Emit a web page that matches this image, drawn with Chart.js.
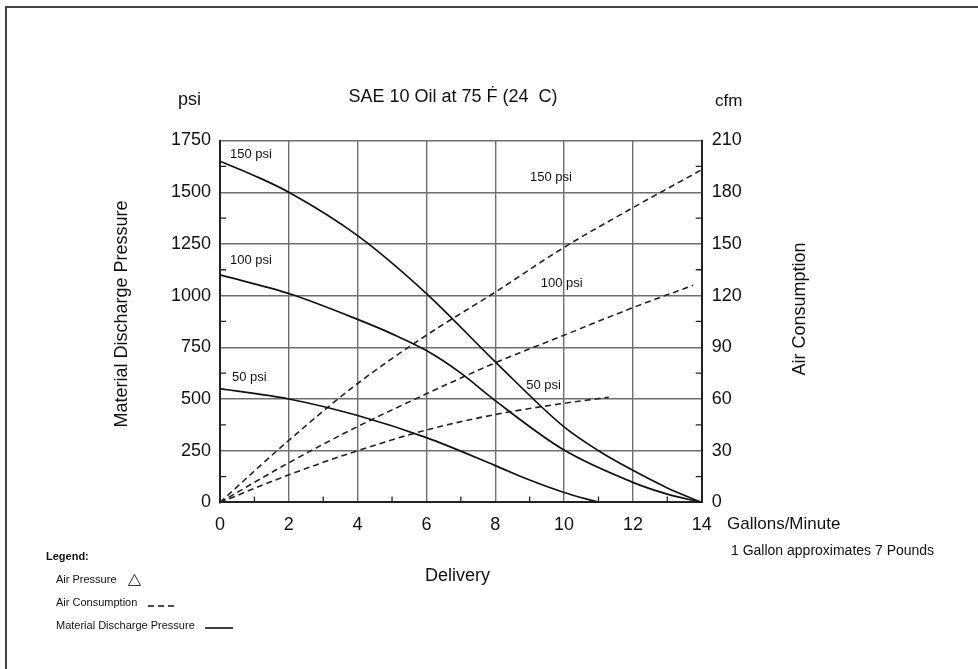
<!DOCTYPE html>
<html><head><meta charset="utf-8">
<script src="https://cdn.jsdelivr.net/npm/chart.js@4/dist/chart.umd.min.js"></script>
<style>html,body{margin:0;padding:0;background:#fff}#wrap{width:978px;height:669px;position:relative}</style>
</head><body><div id="wrap"><canvas id="c" width="978" height="669"></canvas></div>
<script>
// ---- data ----
const xTickLabels = [0,2,4,6,8,10,12,14];
const psiTickLabels = [0,250,500,750,1000,1250,1500,1750];
const cfmTickLabels = [0,30,60,90,120,150,180,210];

// Material discharge pressure (psi) vs gallons/minute
const mdp150Gal = [0,1,2,4,6,8,10,11,12,13,14];
const mdp150Psi = [1650,1580,1500,1290,1010,680,365,250,155,70,0];
const mdp100Gal = [0,2,4,5,6,7,8,10,12,13,14];
const mdp100Psi = [1100,1010,885,815,734,625,492,253,97,40,0];
const mdp50Gal  = [0,2,4,6,8,9,10,11];
const mdp50Psi  = [550,500,420,313,178,108,48,0];

// Air consumption (cfm) vs gallons/minute
const ac150Gal = [0,2,4,6,8,10,12,14];
const ac150Cfm = [0,36,69,97,122,148,171,193];
const ac100Gal = [0,2,4,6,8,10,12,13.75];
const ac100Cfm = [0,23,44,63,81,97,113,126];
const ac50Gal  = [0,2,4,6,8,10,11.3];
const ac50Cfm  = [0,16,30,42,51,57.5,61];

const curveLabels = [
  {text:'150 psi', axis:'y',  x:0.29, v:1681},
  {text:'100 psi', axis:'y',  x:0.29, v:1171},
  {text:'50 psi',  axis:'y',  x:0.35, v:602},
  {text:'150 psi', axis:'y1', x:9.01, v:188.3},
  {text:'100 psi', axis:'y1', x:9.32, v:127.2},
  {text:'50 psi',  axis:'y1', x:8.9,  v:68.1}
];

const pts = (xs, ys) => xs.map((x,i)=>({x, y:ys[i]}));
const FONT = '"Liberation Sans", Arial, sans-serif';
const PLOT = {left:220, right:701.7, top:140.5, bottom:502.4, W:978, H:669};

const solid = (d) => ({data:d, borderColor:'#111', borderWidth:1.7, yAxisID:'y', pointRadius:0, cubicInterpolationMode:'monotone', fill:false});
const dashed = (d) => ({data:d, borderColor:'#222', borderWidth:1.6, borderDash:[6,4], yAxisID:'y1', pointRadius:0, cubicInterpolationMode:'monotone', fill:false});

const decor = {
  id:'decor',
  afterDraw(chart){
    const ctx = chart.ctx, sx = chart.scales.x, sy = chart.scales.y, sy1 = chart.scales.y1;
    const ca = chart.chartArea;
    ctx.save();
    // frame
    ctx.strokeStyle = '#444'; ctx.lineWidth = 2;
    ctx.beginPath(); ctx.moveTo(6, PLOT.H+5); ctx.lineTo(6,7); ctx.lineTo(PLOT.W+5,7); ctx.stroke();
    // minor ticks
    ctx.strokeStyle = '#222'; ctx.lineWidth = 1.3;
    ctx.beginPath();
    for (let v=125; v<1750; v+=250){ const y=sy.getPixelForValue(v); ctx.moveTo(ca.left, y); ctx.lineTo(ca.left+6, y); }
    for (let v=15; v<210; v+=30){ const y=sy1.getPixelForValue(v); ctx.moveTo(ca.right, y); ctx.lineTo(ca.right-6, y); }
    for (let v=1; v<14; v+=2){ const x=sx.getPixelForValue(v); ctx.moveTo(x, ca.bottom); ctx.lineTo(x, ca.bottom-6); }
    ctx.stroke();
    // curve labels
    ctx.fillStyle = '#111'; ctx.font = '13px '+FONT; ctx.textAlign='left'; ctx.textBaseline='middle';
    curveLabels.forEach(l=>{
      const sc = l.axis==='y'?sy:sy1;
      ctx.fillText(l.text, sx.getPixelForValue(l.x), sc.getPixelForValue(l.v));
    });
    // texts
    ctx.font = '18px '+FONT; ctx.textAlign='center';
    ctx.fillText('SAE 10 Oil at 75 Ḟ (24  C)', 453, 97);
    ctx.textAlign='left';
    ctx.fillText('psi', 178, 100);
    ctx.font = '17px '+FONT;
    ctx.fillText('cfm', 715, 101);
    ctx.fillText('Gallons/Minute', 727, 524);
    ctx.font = '18px '+FONT;
    ctx.fillText('Delivery', 425, 576);
    ctx.font = '14px '+FONT;
    ctx.fillText('1 Gallon approximates 7 Pounds', 731, 551);
    // rotated axis titles
    ctx.font = '18px '+FONT; ctx.textAlign='center';
    ctx.save(); ctx.translate(122, 314); ctx.rotate(-Math.PI/2); ctx.fillText('Material Discharge Pressure', 0, 0); ctx.restore();
    ctx.save(); ctx.translate(800, 309); ctx.rotate(-Math.PI/2); ctx.fillText('Air Consumption', 0, 0); ctx.restore();
    // legend
    ctx.textAlign='left';
    ctx.font = 'bold 11px '+FONT; ctx.fillText('Legend:', 46, 557);
    ctx.font = '11px '+FONT;
    ctx.fillText('Air Pressure', 56, 580);
    ctx.fillText('Air Consumption', 56, 603);
    ctx.fillText('Material Discharge Pressure', 56, 626);
    ctx.strokeStyle = '#333'; ctx.lineWidth = 1;
    ctx.beginPath(); ctx.moveTo(128.5, 585.5); ctx.lineTo(134.5, 574.5); ctx.lineTo(140.5, 585.5); ctx.closePath(); ctx.stroke();
    ctx.lineWidth = 1.6; ctx.strokeStyle='#111';
    ctx.setLineDash([6,4]); ctx.beginPath(); ctx.moveTo(148, 606); ctx.lineTo(178, 606); ctx.stroke();
    ctx.setLineDash([]); ctx.beginPath(); ctx.moveTo(205, 628); ctx.lineTo(233, 628); ctx.stroke();
    ctx.restore();
  }
};

new Chart(document.getElementById('c'), {
  type:'line',
  data:{ datasets:[
    solid(pts(mdp150Gal, mdp150Psi)),
    solid(pts(mdp100Gal, mdp100Psi)),
    solid(pts(mdp50Gal, mdp50Psi)),
    dashed(pts(ac150Gal, ac150Cfm)),
    dashed(pts(ac100Gal, ac100Cfm)),
    dashed(pts(ac50Gal, ac50Cfm))
  ]},
  options:{
    responsive:false, animation:false, devicePixelRatio:1,
    layout:{padding:{top:PLOT.top, left:0, right:0, bottom:0}},
    plugins:{legend:{display:false}, tooltip:{enabled:false}, title:{display:false}},
    scales:{
      x:{type:'linear', min:0, max:14,
         afterBuildTicks: s => { s.ticks = xTickLabels.map(v=>({value:v})); },
         ticks:{font:{size:18, family:FONT}, color:'#111', padding:12, maxRotation:0, autoSkip:false, callback: v => String(v)},
         grid:{color: c => (c.tick && c.tick.value>0 && c.tick.value<14) ? '#6e6e6e' : 'transparent', lineWidth:1.4, drawTicks:false},
         border:{color:'#222', width:2},
         afterFit: s => { s.height = PLOT.H - PLOT.bottom; }},
      y:{position:'left', min:0, max:1750,
         afterBuildTicks: s => { s.ticks = psiTickLabels.map(v=>({value:v})); },
         ticks:{font:{size:18, family:FONT}, color:'#111', padding:9, callback: v => String(v)},
         grid:{color: c => (c.tick && c.tick.value>0) ? '#6e6e6e' : 'transparent', lineWidth:1.4, drawTicks:false},
         border:{color:'#222', width:2},
         afterFit: s => { s.width = PLOT.left; }},
      y1:{position:'right', min:0, max:210,
         afterBuildTicks: s => { s.ticks = cfmTickLabels.map(v=>({value:v})); },
         ticks:{font:{size:18, family:FONT}, color:'#111', padding:10, callback: v => String(v)},
         grid:{drawOnChartArea:false, drawTicks:false},
         border:{color:'#222', width:2},
         afterFit: s => { s.width = PLOT.W - PLOT.right; }}
    }
  },
  plugins:[decor]
});
</script></body></html>
